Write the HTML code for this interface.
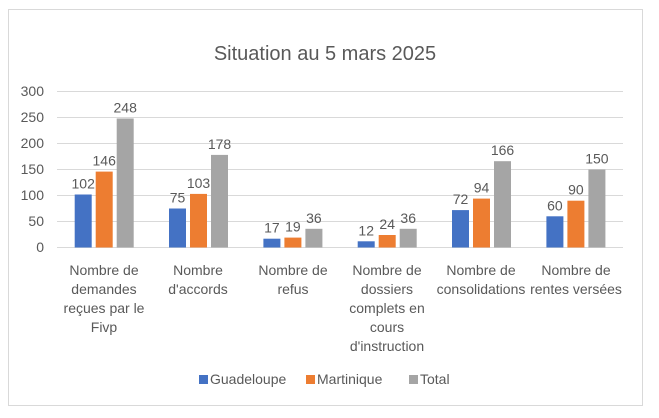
<!DOCTYPE html>
<html><head><meta charset="utf-8"><style>
body{margin:0;background:#fff;}
svg text{font-family:"Liberation Sans",sans-serif;fill:#595959;}
</style></head><body>
<svg width="659" height="413" xmlns="http://www.w3.org/2000/svg">
<rect x="8.5" y="9.5" width="634" height="396" fill="#fff" stroke="#d9d9d9"/>
<text x="325" y="60" font-size="20" text-anchor="middle">Situation au 5 mars 2025</text>
<g stroke="#d9d9d9" stroke-width="1">
<line x1="57" x2="623" y1="91.5" y2="91.5"/><line x1="57" x2="623" y1="117.5" y2="117.5"/>
<line x1="57" x2="623" y1="143.5" y2="143.5"/><line x1="57" x2="623" y1="169.5" y2="169.5"/>
<line x1="57" x2="623" y1="195.5" y2="195.5"/><line x1="57" x2="623" y1="221.5" y2="221.5"/>
<line x1="57" x2="623" y1="247.5" y2="247.5"/>
</g>
<g font-size="14" text-anchor="end">
<text x="44" y="96">300</text><text x="44" y="122">250</text><text x="44" y="148">200</text>
<text x="44" y="174">150</text><text x="44" y="200">100</text><text x="44" y="226">50</text><text x="44" y="252">0</text>
</g>
<g>
<rect x="74.7" y="194.5" width="17" height="53" fill="#4472c4"/>
<rect x="95.7" y="171.6" width="17" height="75.9" fill="#ed7d31"/>
<rect x="116.7" y="118.5" width="17" height="129" fill="#a5a5a5"/>
<rect x="169" y="208.5" width="17" height="39" fill="#4472c4"/>
<rect x="190" y="193.9" width="17" height="53.6" fill="#ed7d31"/>
<rect x="211" y="154.9" width="17" height="92.6" fill="#a5a5a5"/>
<rect x="263.4" y="238.7" width="17" height="8.8" fill="#4472c4"/>
<rect x="284.4" y="237.6" width="17" height="9.9" fill="#ed7d31"/>
<rect x="305.4" y="228.8" width="17" height="18.7" fill="#a5a5a5"/>
<rect x="357.7" y="241.3" width="17" height="6.2" fill="#4472c4"/>
<rect x="378.7" y="235" width="17" height="12.5" fill="#ed7d31"/>
<rect x="399.7" y="228.8" width="17" height="18.7" fill="#a5a5a5"/>
<rect x="452" y="210.1" width="17" height="37.4" fill="#4472c4"/>
<rect x="473" y="198.6" width="17" height="48.9" fill="#ed7d31"/>
<rect x="494" y="161.2" width="17" height="86.3" fill="#a5a5a5"/>
<rect x="546.4" y="216.3" width="17" height="31.2" fill="#4472c4"/>
<rect x="567.4" y="200.7" width="17" height="46.8" fill="#ed7d31"/>
<rect x="588.4" y="169.5" width="17" height="78" fill="#a5a5a5"/>
</g>
<g font-size="14" text-anchor="middle">
<text x="83.2" y="188.5">102</text><text x="104.2" y="165.6">146</text><text x="125.2" y="112.5">248</text>
<text x="177.5" y="202.5">75</text><text x="198.5" y="187.9">103</text><text x="219.5" y="148.9">178</text>
<text x="271.9" y="232.7">17</text><text x="292.9" y="231.6">19</text><text x="313.9" y="222.8">36</text>
<text x="366.2" y="235.3">12</text><text x="387.2" y="229">24</text><text x="408.2" y="222.8">36</text>
<text x="460.5" y="204.1">72</text><text x="481.5" y="192.6">94</text><text x="502.5" y="155.2">166</text>
<text x="554.9" y="210.3">60</text><text x="575.9" y="194.7">90</text><text x="596.9" y="163.5">150</text>
</g>
<g font-size="14" text-anchor="middle">
<text x="104" y="275">Nombre de</text><text x="104" y="294">demandes</text><text x="104" y="313">reçues par le</text><text x="104" y="332">Fivp</text>
<text x="198" y="275">Nombre</text><text x="198" y="294">d'accords</text>
<text x="293" y="275">Nombre de</text><text x="293" y="294">refus</text>
<text x="387" y="275">Nombre de</text><text x="387" y="294">dossiers</text><text x="387" y="313">complets en</text><text x="387" y="332">cours</text><text x="387" y="351">d'instruction</text>
<text x="481" y="275">Nombre de</text><text x="481" y="294">consolidations</text>
<text x="576" y="275">Nombre de</text><text x="576" y="294">rentes versées</text>
</g>
<g font-size="14">
<rect x="199" y="375" width="9" height="9" fill="#4472c4"/><text x="210" y="384">Guadeloupe</text>
<rect x="306" y="375" width="9" height="9" fill="#ed7d31"/><text x="317" y="384">Martinique</text>
<rect x="409" y="375" width="9" height="9" fill="#a5a5a5"/><text x="420" y="384">Total</text>
</g>
</svg>
</body></html>
